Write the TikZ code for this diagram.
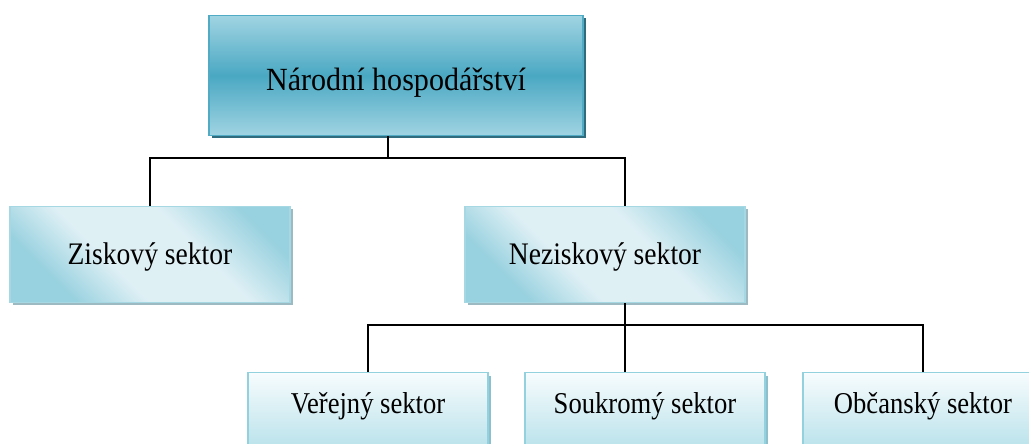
\documentclass[tikz,border=0pt]{standalone}
\usepackage{fontspec}
\setmainfont{Liberation Serif}
\newfontfamily\topfont[FakeStretch=0.93]{Liberation Serif}
\newfontfamily\boxfont[FakeStretch=0.88]{Liberation Serif}
\usepackage{tikz}
\usetikzlibrary{positioning,shadows}

\definecolor{topdark}{HTML}{4AA8C3}
\definecolor{toplight}{HTML}{A0D4E2}
\definecolor{topedge}{HTML}{52ABC4}
\definecolor{topshadow}{HTML}{2E6C7E}
\definecolor{midedge}{HTML}{98D1DF}
\definecolor{midlight}{HTML}{DFF0F5}
\definecolor{midline}{HTML}{A6D8E4}
\definecolor{midshadow}{HTML}{9DB9C2}
\definecolor{lowlight}{HTML}{F7FCFD}
\definecolor{lowdark}{HTML}{A9DBE6}
\definecolor{lowline}{HTML}{94D1DF}
\definecolor{lowshadow}{HTML}{8CC0CD}

\pgfdeclarehorizontalshading{midshade}{100bp}{color(0bp)=(midedge); color(27bp)=(midedge); color(41bp)=(midlight); color(60bp)=(midlight); color(76bp)=(midedge); color(100bp)=(midedge)}

\begin{document}
\begin{tikzpicture}[x=0.025cm, y=-0.025cm]
\tikzset{
  topbox/.style={
    draw=topedge,
    line width=0.8pt,
    top color=toplight,
    bottom color=toplight,
    middle color=topdark,
    font=\topfont\fontsize{23}{27}\selectfont,
    minimum width=9.35cm,
    inner ysep=0pt,
    text height=1.875cm,
    text depth=1.125cm,
    anchor=north,
    drop shadow={shadow xshift=0.07cm, shadow yshift=-0.07cm, fill=topshadow, opacity=1},
  },
  midbox/.style={
    draw=midline,
    line width=0.8pt,
    shading=midshade,
    shading angle=45,
    font=\boxfont\fontsize{22.3}{26}\selectfont,
    minimum width=7cm,
    inner ysep=0pt,
    text height=1.45cm,
    text depth=0.95cm,
    anchor=north,
    drop shadow={shadow xshift=0.07cm, shadow yshift=-0.07cm, fill=midshadow, opacity=1},
  },
  lowbox/.style={
    draw=lowline,
    line width=1pt,
    top color=lowlight,
    bottom color=lowdark,
    font=\boxfont\fontsize{21.5}{26}\selectfont,
    minimum width=6cm,
    inner ysep=0pt,
    text height=1.025cm,
    text depth=1.375cm,
    anchor=north,
    drop shadow={shadow xshift=0.07cm, shadow yshift=-0.07cm, fill=lowshadow, opacity=1},
  },
  conn/.style={line width=1.3pt, black},
}
\useasboundingbox (0,0) rectangle (1029,443);
\clip (0,0) rectangle (1029,443);

\node[topbox] (A) at (396,15) {Národní hospodářství};
\node[midbox] (B) at (150,206) {Ziskový sektor};
\node[midbox] (C) at (605,206) {Neziskový sektor};
\node[lowbox] (D) at (368,372) {Veřejný sektor};
\node[lowbox] (E) at (645,372) {Soukromý sektor};
\node[lowbox] (F) at (923,372) {Občanský sektor};

\coordinate (J1) at (388,158);
\coordinate (J2) at (625,325);

\draw[conn] (A.south -| J1) -- (J1);
\draw[conn] (J1) -| (B.north);
\draw[conn] (J1) -| (C.north -| J2);

\draw[conn] (C.south -| J2) -- (J2);
\draw[conn] (J2) -| (D.north);
\draw[conn] (J2) -- (E.north -| J2);
\draw[conn] (J2) -| (F.north);

\end{tikzpicture}
\end{document}
